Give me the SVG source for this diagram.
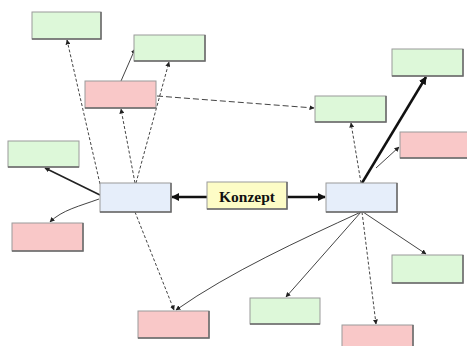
<svg xmlns="http://www.w3.org/2000/svg" width="467" height="346" viewBox="0 0 467 346">
<style>
.box{stroke:#9a9a9a;stroke-width:1}
.g{fill:#ddf8d9}
.r{fill:#f9c8c8}
.b{fill:#e6eefa}
.y{fill:#fdfcc6}
.sh{stroke:#6a6a6a;stroke-width:1.5;fill:none}
.c{fill:none;stroke:#444;stroke-width:1}
.d{stroke-dasharray:3,2}
.dl{stroke-dasharray:6,3}
.t{stroke:#111;stroke-width:2.5}
.m{stroke:#222;stroke-width:1.6}
.lbl{font-family:"Liberation Serif",serif;font-weight:bold;font-size:15.5px;fill:#111}
</style>
<defs>
<marker id="a" viewBox="0 0 10 10" refX="9" refY="5" markerWidth="5" markerHeight="5" orient="auto" markerUnits="userSpaceOnUse">
<path d="M0,0 L10,5 L0,10 z" fill="#222"/>
</marker>
<marker id="ab" viewBox="0 0 10 10" refX="9" refY="5" markerWidth="8" markerHeight="8" orient="auto" markerUnits="userSpaceOnUse">
<path d="M0,0 L10,5 L0,10 z" fill="#111"/>
</marker>
</defs>
<rect width="467" height="346" fill="#fff"/>
<g id="connectors">
<line class="c t" x1="207" y1="197" x2="172" y2="197" marker-end="url(#ab)"/>
<line class="c t" x1="287" y1="197" x2="325" y2="197" marker-end="url(#ab)"/>
<line class="c d" x1="100" y1="184" x2="67" y2="40" marker-end="url(#a)"/>
<line class="c d" x1="135" y1="183" x2="121" y2="109" marker-end="url(#a)"/>
<line class="c d" x1="136" y1="183" x2="169" y2="62" marker-end="url(#a)"/>
<line class="c" x1="121" y1="81" x2="135" y2="49" marker-end="url(#a)"/>
<line class="c dl" x1="157" y1="96" x2="314" y2="108" marker-end="url(#a)"/>
<line class="c d" x1="361" y1="183" x2="351" y2="123" marker-end="url(#a)"/>
<line class="c t" x1="362" y1="183" x2="426" y2="77" marker-end="url(#ab)"/>
<line class="c" x1="376" y1="168" x2="399" y2="147" marker-end="url(#a)"/>
<line class="c m" x1="100" y1="195" x2="45" y2="168" marker-end="url(#a)"/>
<path class="c" d="M99,199 C80,206 62,210 50,222" marker-end="url(#a)"/>
<line class="c d" x1="135" y1="212" x2="174" y2="310" marker-end="url(#a)"/>
<path class="c" d="M361,212 C300,240 230,272 176,310" marker-end="url(#a)"/>
<line class="c" x1="361" y1="212" x2="286" y2="297" marker-end="url(#a)"/>
<line class="c d" x1="362" y1="212" x2="376" y2="324" marker-end="url(#a)"/>
<line class="c" x1="363" y1="212" x2="426" y2="254" marker-end="url(#a)"/>
</g>
<g id="n1"><rect class="box g" x="32" y="12" width="69" height="27"/><path class="sh" d="M32,39 H101 V12"/></g>
<g id="n2"><rect class="box g" x="134" y="35" width="71" height="26"/><path class="sh" d="M134,61 H205 V35"/></g>
<g id="n3"><rect class="box r" x="85" y="81" width="71" height="27"/><path class="sh" d="M85,108 H156"/></g>
<g id="n4"><rect class="box g" x="8" y="141" width="71" height="26"/><path class="sh" d="M8,167 H79"/></g>
<g id="n5"><rect class="box g" x="315" y="96" width="71" height="26"/><path class="sh" d="M315,122 H386 V96"/></g>
<g id="n6"><rect class="box g" x="392" y="49" width="71" height="27"/><path class="sh" d="M392,76 H463 V49"/></g>
<g id="n7"><rect class="box r" x="400" y="132" width="70" height="26"/><path class="sh" d="M400,158 H467"/></g>
<g id="n8"><rect class="box b" x="100" y="183" width="71" height="29"/><path class="sh" d="M100,212 H171 V183"/></g>
<g id="konzept"><rect class="box y" x="207" y="182" width="80" height="27" stroke="#8a8a60"/><path class="sh" d="M207,209 H287 V182"/><text class="lbl" x="247" y="202" text-anchor="middle">Konzept</text></g>
<g id="n10"><rect class="box b" x="326" y="183" width="71" height="29"/><path class="sh" d="M326,212 H397 V183"/></g>
<g id="n11"><rect class="box r" x="138" y="311" width="71" height="27"/><path class="sh" d="M138,338 H209 V311"/></g>
<g id="n12"><rect class="box r" x="12" y="223" width="71" height="28"/><path class="sh" d="M12,251 H83 V223"/></g>
<g id="n13"><rect class="box g" x="392" y="255" width="71" height="28"/><path class="sh" d="M392,283 H463 V255"/></g>
<g id="n14"><rect class="box g" x="250" y="298" width="70" height="26"/><path class="sh" d="M250,324 H320"/></g>
<g id="n15"><rect class="box r" x="342" y="325" width="71" height="30"/><path class="sh" d="M413,346 V325"/></g>
</svg>
